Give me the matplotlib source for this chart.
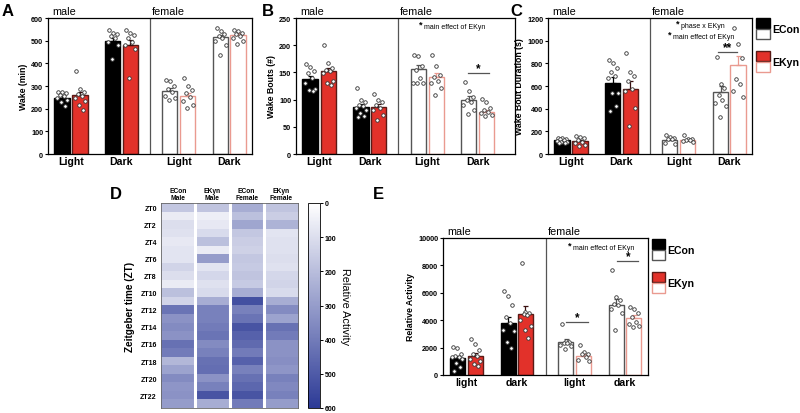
import numpy as np
import matplotlib
matplotlib.use("Agg")
import matplotlib.pyplot as plt
from matplotlib.colors import LinearSegmentedColormap
from matplotlib.patches import Rectangle
from matplotlib.transforms import blended_transform_factory

plt.rcParams['font.family'] = ['Liberation Sans', 'DejaVu Sans']

# ---------------- data ----------------
groups = ["Male ECon", "Male EKyn", "Female ECon", "Female EKyn"]
phases_A = ["Light", "Dark", "Light", "Dark"]
phases_E = ["light", "dark", "light", "dark"]

# order: M-Light-ECon, M-Light-EKyn, M-Dark-ECon, M-Dark-EKyn, F-Light-ECon, F-Light-EKyn, F-Dark-ECon, F-Dark-EKyn
wake_mean = [248, 259, 500, 479, 278, 256, 515, 526]
wake_sem = [8, 15, 12, 22, 12, 15, 12, 8]
wake_pts = [
    [275, 272, 268, 262, 255, 245, 238, 228, 212],
    [365, 285, 275, 265, 255, 245, 232, 215, 195],
    [545, 535, 528, 520, 512, 492, 480, 420],
    [545, 535, 525, 512, 495, 482, 465, 335],
    [325, 320, 300, 285, 272, 258, 245, 240],
    [335, 300, 282, 268, 250, 236, 215, 203],
    [555, 542, 530, 522, 510, 497, 482, 435],
    [545, 542, 536, 530, 520, 510, 500, 485],
]

bouts_mean = [138, 152, 87, 86, 156, 141, 100, 77]
bouts_sem = [6, 7, 4, 6, 8, 8, 7, 4]
bouts_pts = [
    [165, 160, 152, 148, 140, 130, 120, 118, 115],
    [200, 168, 158, 155, 152, 148, 135, 130, 127],
    [122, 100, 95, 90, 88, 85, 80, 75, 70, 68],
    [110, 100, 95, 90, 85, 80, 72, 62],
    [182, 181, 162, 155, 140, 130, 130, 130],
    [182, 162, 146, 142, 135, 130, 122, 108],
    [133, 115, 105, 100, 95, 90, 80, 73],
    [102, 95, 85, 80, 78, 75, 72, 70],
]

dur_mean = [120, 112, 628, 575, 126, 120, 546, 786]
dur_sem = [6, 8, 50, 70, 10, 6, 55, 75]
dur_pts = [
    [145, 140, 135, 130, 125, 118, 110, 105, 100, 95],
    [160, 150, 140, 122, 110, 95, 82, 75],
    [830, 800, 760, 720, 690, 670, 540, 540, 420, 380],
    [890, 720, 690, 640, 570, 560, 410, 250],
    [170, 150, 140, 135, 130, 100, 90],
    [165, 135, 130, 125, 120, 115, 110],
    [860, 620, 580, 520, 480, 450, 420, 330],
    [1110, 970, 850, 660, 620, 560, 500],
]

act_mean = [1240, 1410, 3800, 4480, 2430, 1390, 5130, 4180]
act_sem = [180, 200, 450, 550, 200, 150, 450, 200]
act_pts = [
    [2050, 2000, 1500, 1400, 1350, 1300, 1200, 900, 600, 300],
    [2600, 2250, 1800, 1550, 1400, 1200, 1050, 800, 650],
    [6100, 5800, 5100, 4200, 3800, 3300, 3200, 2400, 2000],
    [8200, 4600, 4500, 4450, 4400, 4000, 3600, 3300, 2700],
    [3700, 2450, 2400, 2350, 2300, 2200, 2100, 1900],
    [2200, 1700, 1550, 1500, 1300, 1100, 1000],
    [7700, 5700, 5500, 5200, 5100, 4800, 4500, 3250],
    [4950, 4800, 4500, 4200, 3900, 3700, 3600, 3500],
]

# heatmap: rows ZT0..ZT23, columns ECon Male, EKyn Male, ECon Female, EKyn Female
heat_cols = ["ECon\nMale", "EKyn\nMale", "ECon\nFemale", "EKyn\nFemale"]
heat_econ_m = [170, 60, 100, 90, 70, 80, 80, 130, 100, 60, 190, 130,
               420, 330, 350, 330, 430, 400, 220, 280, 350, 320, 330, 300]
heat_ekyn_m = [180, 50, 70, 110, 190, 60, 300, 80, 120, 90, 110, 250,
               380, 380, 400, 420, 350, 380, 430, 440, 330, 380, 520, 250]
heat_econ_f = [250, 190, 270, 170, 150, 140, 170, 160, 180, 160, 250, 530,
               380, 420, 520, 480, 450, 400, 480, 380, 430, 460, 520, 400]
heat_ekyn_f = [180, 150, 230, 80, 90, 90, 100, 90, 120, 130, 110, 250,
               350, 280, 430, 400, 330, 330, 340, 320, 380, 360, 380, 300]

# ---------------- style ----------------
W, H = 800, 414
fig = plt.figure(figsize=(8.0, 4.14), dpi=100)

def px_axes(l, t, r, b):
    return fig.add_axes([l / W, 1 - b / H, (r - l) / W, (b - t) / H])

POS = [0.8, 1.83, 3.71, 4.69, 6.97, 8.0, 9.86, 10.86]
DIV = 5.85
BW = 0.86
RED = '#E2312A'
PINK = '#EA9A90'

face = ['black', RED, 'black', RED, 'white', 'white', 'white', 'white']
edge = ['black', '#5a1a16', 'black', '#5a1a16', '#555555', PINK, '#555555', PINK]
ecol = ['black', '#3a1010', 'black', '#3a1010', '#555555', PINK, '#555555', PINK]
OFFS = [-0.22, 0.0, 0.22, -0.11, 0.11, -0.3, 0.3, -0.05, 0.17, -0.17]


def bar_panel(ax, means, sems, pts, ymax, ystep, ylabel, xlabels, xmax=11.66):
    for i in range(8):
        ax.bar(POS[i], means[i], width=BW, color=face[i], edgecolor=edge[i],
               linewidth=1.0, zorder=2)
        ax.errorbar(POS[i], means[i], yerr=[[0], [sems[i]]], fmt='none',
                    ecolor=ecol[i], elinewidth=0.9, capsize=1.8, capthick=0.9, zorder=3)
        v = pts[i]
        xs = [POS[i] + OFFS[k % len(OFFS)] for k in range(len(v))]
        ax.scatter(xs, v, s=6.5, facecolor='white', edgecolor='#333333',
                   linewidth=0.6, zorder=4)
    ax.set_xlim(0, xmax)
    ax.set_ylim(0, ymax)
    ax.set_yticks(np.arange(0, ymax + 1, ystep))
    ax.set_yticklabels([str(int(t)) for t in np.arange(0, ymax + 1, ystep)],
                       fontsize=5.2, fontweight='bold')
    ax.tick_params(axis='y', length=2.5, width=0.8, pad=1)
    ax.set_xticks([(POS[0] + POS[1]) / 2, (POS[2] + POS[3]) / 2,
                   (POS[4] + POS[5]) / 2, (POS[6] + POS[7]) / 2])
    ax.set_xticklabels(xlabels, fontsize=7.6, fontweight='bold')
    ax.tick_params(axis='x', length=0, pad=1.5)
    ax.axvline(DIV, color='#555555', lw=0.9)
    for s in ax.spines.values():
        s.set_linewidth(0.9)
    ax.set_ylabel(ylabel, fontsize=6.3, fontweight='bold', labelpad=2)
    tr = blended_transform_factory(ax.transData, ax.transAxes)
    ax.text(0.25, 1.015, "male", transform=tr, fontsize=7.8, ha='left', va='bottom')
    ax.text(DIV + 0.1, 1.015, "female", transform=tr, fontsize=7.8, ha='left', va='bottom')


def star_note(ax, x, y, txt):
    ax.annotate("*", xy=(x, y), xytext=(0, 1.2), textcoords='offset points',
                fontsize=6.5, ha='left', va='center', fontweight='bold')
    ax.annotate(txt, xy=(x, y), xytext=(3.6, -0.6), textcoords='offset points',
                fontsize=5.0, ha='left', va='center')


def sig(ax, x0, x1, y, s):
    ax.plot([x0, x1], [y, y], color='#555555', lw=0.9)
    ax.annotate(s, xy=((x0 + x1) / 2, y), xytext=(0, 3.2), textcoords='offset points',
                ha='center', va='center', fontsize=8.5, fontweight='bold')

# A
axA = px_axes(48, 19, 252, 155)
bar_panel(axA, wake_mean, wake_sem, wake_pts, 600, 100, "Wake (min)", phases_A)
# B
axB = px_axes(296, 19, 515, 155)
bar_panel(axB, bouts_mean, bouts_sem, bouts_pts, 250, 50, "Wake Bouts (#)", phases_A, xmax=12.5)
star_note(axB, 7.0, 236, "main effect of EKyn")
sig(axB, POS[6] - 0.05, POS[7] + 0.15, 149, "*")
# C
axC = px_axes(548, 19, 752, 155)
bar_panel(axC, dur_mean, dur_sem, dur_pts, 1200, 200, "Wake Bout Duration (s)", phases_A)
star_note(axC, 7.3, 1140, "phase x EKyn")
star_note(axC, 6.85, 1045, "main effect of EKyn")
sig(axC, POS[6] - 0.15, POS[7] - 0.05, 904, "**")
# E
axE = px_axes(443, 239, 648, 376)
bar_panel(axE, act_mean, act_sem, act_pts, 10000, 2000, "Relative Activity", phases_E)
star_note(axE, 7.1, 9400, "main effect of EKyn")
sig(axE, POS[4] + 0.05, POS[5] + 0.25, 3870, "*")
sig(axE, POS[6] + 0.05, POS[7] + 0.25, 8320, "*")

# legends
def legend(x, y_top, sz_w, sz_h, fs):
    def rect(xx, yy, fc, ec):
        fig.patches.append(Rectangle((xx / W, 1 - (yy + sz_h) / H), sz_w / W, sz_h / H,
                                     facecolor=fc, edgecolor=ec, lw=1.0,
                                     transform=fig.transFigure, figure=fig))
    rect(x, y_top, 'black', 'black')
    rect(x, y_top + sz_h + 1, 'white', '#555555')
    fig.text((x + sz_w + 2) / W, 1 - (y_top + sz_h + 1) / H, "ECon", fontsize=fs,
             fontweight='bold', va='center', ha='left')
    y2 = y_top + 2 * sz_h + 13
    rect(x, y2, RED, '#5a1a16')
    rect(x, y2 + sz_h + 1, 'white', PINK)
    fig.text((x + sz_w + 2) / W, 1 - (y2 + sz_h + 1) / H, "EKyn", fontsize=fs,
             fontweight='bold', va='center', ha='left')

legend(756, 19, 14, 10, 7.6)
legend(652, 240, 13, 10, 7.6)

# D heatmap
axD = px_axes(161, 204, 298, 409)
heat = np.array([heat_econ_m, heat_ekyn_m, heat_econ_f, heat_ekyn_f]).T
cmap = LinearSegmentedColormap.from_list('wb', ['#FFFFFF', '#2C3A96'])
im = axD.imshow(heat, cmap=cmap, vmin=0, vmax=600, aspect='auto',
                interpolation='nearest', extent=(-0.5, 3.5, 23.5, -0.5))
for xb in [0.5, 1.5, 2.5]:
    axD.axvline(xb, color='white', lw=2.2)
axD.set_yticks(np.arange(0, 24, 2))
axD.set_yticklabels(["ZT%d" % z for z in range(0, 24, 2)], fontsize=5.0, fontweight='bold')
axD.tick_params(axis='y', length=0, pad=3)
axD.xaxis.tick_top()
axD.set_xticks(range(4))
axD.set_xticklabels(heat_cols, fontsize=4.8, fontweight='bold', linespacing=0.95)
axD.tick_params(axis='x', length=0, pad=1.5)
for s in axD.spines.values():
    s.set_linewidth(0.6)
    s.set_color('#666666')
axD.set_ylabel("Zeitgeber time (ZT)", fontsize=7.2, fontweight='bold', labelpad=4)

cax = px_axes(308, 204, 320, 409)
cb = fig.colorbar(im, cax=cax, ticks=range(0, 601, 100))
cax.invert_yaxis()
cax.tick_params(length=2.5, width=0.7, pad=1)
cax.set_yticklabels([str(t) for t in range(0, 601, 100)], fontsize=5.0, fontweight='bold')
cb.outline.set_linewidth(0.6)
cax.set_ylabel("Relative Activity", rotation=270, fontsize=7.8, labelpad=10)

# panel letters
for lab, x, y in [("A", 2, 11), ("B", 262, 11), ("C", 510, 11), ("D", 110, 195), ("E", 373, 195)]:
    fig.text(x / W, 1 - y / H, lab, fontsize=12, fontweight='bold', ha='left', va='center')

fig.savefig("out.png", dpi=100)
